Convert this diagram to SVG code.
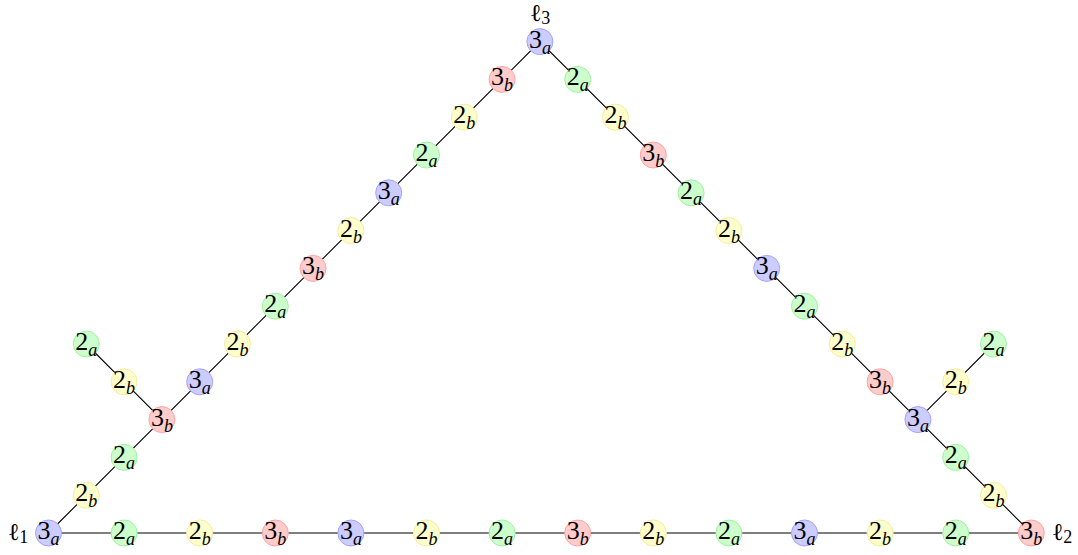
<svg xmlns="http://www.w3.org/2000/svg" width="1078" height="555" viewBox="0 0 1078 555">
<style>
.bg{fill:#ffffff}
.e{stroke:#000;stroke-width:1.1;fill:none}
circle{stroke-width:1}
.a3 circle{fill:#ccccff;stroke:#a3a3ff}
.b3 circle{fill:#ffcccc;stroke:#ffa3a3}
.a2 circle{fill:#ccffcc;stroke:#a3f0a3}
.b2 circle{fill:#ffffcc;stroke:#f5eba3}
.t{font-family:'Liberation Serif','Times New Roman',serif;font-size:26px;fill:#000;text-anchor:middle}
.s{font-family:'Liberation Serif','Times New Roman',serif;font-style:italic;font-size:18px}
.ls{font-family:'Liberation Serif',serif;font-size:18px}
</style>
<rect class="bg" x="0" y="0" width="1078" height="555"/>
<g id="connectors">
<polyline class="e" points="48.5,533 539.9,41.6 1031.3,533 48.5,533"/>
<polyline class="e" points="161.9,419.6 124.1,381.8 86.3,344"/>
<polyline class="e" points="917.9,419.6 955.7,381.8 993.5,344"/>
</g>
<g id="nodes">
<g id="L0" class="a3"><circle cx="48.5" cy="533" r="13"/><text class="t" x="48.5" y="539">3<tspan class="s" dy="6">a</tspan></text></g>
<g id="L1" class="b2"><circle cx="86.3" cy="495.2" r="13"/><text class="t" x="86.3" y="501.2">2<tspan class="s" dy="6">b</tspan></text></g>
<g id="L2" class="a2"><circle cx="124.1" cy="457.4" r="13"/><text class="t" x="124.1" y="463.4">2<tspan class="s" dy="6">a</tspan></text></g>
<g id="L3" class="b3"><circle cx="161.9" cy="419.6" r="13"/><text class="t" x="161.9" y="425.6">3<tspan class="s" dy="6">b</tspan></text></g>
<g id="L4" class="a3"><circle cx="199.7" cy="381.8" r="13"/><text class="t" x="199.7" y="387.8">3<tspan class="s" dy="6">a</tspan></text></g>
<g id="L5" class="b2"><circle cx="237.5" cy="344" r="13"/><text class="t" x="237.5" y="350">2<tspan class="s" dy="6">b</tspan></text></g>
<g id="L6" class="a2"><circle cx="275.3" cy="306.2" r="13"/><text class="t" x="275.3" y="312.2">2<tspan class="s" dy="6">a</tspan></text></g>
<g id="L7" class="b3"><circle cx="313.1" cy="268.4" r="13"/><text class="t" x="313.1" y="274.4">3<tspan class="s" dy="6">b</tspan></text></g>
<g id="L8" class="b2"><circle cx="350.9" cy="230.6" r="13"/><text class="t" x="350.9" y="236.6">2<tspan class="s" dy="6">b</tspan></text></g>
<g id="L9" class="a3"><circle cx="388.7" cy="192.8" r="13"/><text class="t" x="388.7" y="198.8">3<tspan class="s" dy="6">a</tspan></text></g>
<g id="L10" class="a2"><circle cx="426.5" cy="155" r="13"/><text class="t" x="426.5" y="161">2<tspan class="s" dy="6">a</tspan></text></g>
<g id="L11" class="b2"><circle cx="464.3" cy="117.2" r="13"/><text class="t" x="464.3" y="123.2">2<tspan class="s" dy="6">b</tspan></text></g>
<g id="L12" class="b3"><circle cx="502.1" cy="79.4" r="13"/><text class="t" x="502.1" y="85.4">3<tspan class="s" dy="6">b</tspan></text></g>
<g id="APEX" class="a3"><circle cx="539.9" cy="41.6" r="13"/><text class="t" x="539.9" y="47.6">3<tspan class="s" dy="6">a</tspan></text></g>
<g id="R1" class="a2"><circle cx="577.7" cy="79.4" r="13"/><text class="t" x="577.7" y="85.4">2<tspan class="s" dy="6">a</tspan></text></g>
<g id="R2" class="b2"><circle cx="615.5" cy="117.2" r="13"/><text class="t" x="615.5" y="123.2">2<tspan class="s" dy="6">b</tspan></text></g>
<g id="R3" class="b3"><circle cx="653.3" cy="155" r="13"/><text class="t" x="653.3" y="161">3<tspan class="s" dy="6">b</tspan></text></g>
<g id="R4" class="a2"><circle cx="691.1" cy="192.8" r="13"/><text class="t" x="691.1" y="198.8">2<tspan class="s" dy="6">a</tspan></text></g>
<g id="R5" class="b2"><circle cx="728.9" cy="230.6" r="13"/><text class="t" x="728.9" y="236.6">2<tspan class="s" dy="6">b</tspan></text></g>
<g id="R6" class="a3"><circle cx="766.7" cy="268.4" r="13"/><text class="t" x="766.7" y="274.4">3<tspan class="s" dy="6">a</tspan></text></g>
<g id="R7" class="a2"><circle cx="804.5" cy="306.2" r="13"/><text class="t" x="804.5" y="312.2">2<tspan class="s" dy="6">a</tspan></text></g>
<g id="R8" class="b2"><circle cx="842.3" cy="344" r="13"/><text class="t" x="842.3" y="350">2<tspan class="s" dy="6">b</tspan></text></g>
<g id="R9" class="b3"><circle cx="880.1" cy="381.8" r="13"/><text class="t" x="880.1" y="387.8">3<tspan class="s" dy="6">b</tspan></text></g>
<g id="R10" class="a3"><circle cx="917.9" cy="419.6" r="13"/><text class="t" x="917.9" y="425.6">3<tspan class="s" dy="6">a</tspan></text></g>
<g id="R11" class="a2"><circle cx="955.7" cy="457.4" r="13"/><text class="t" x="955.7" y="463.4">2<tspan class="s" dy="6">a</tspan></text></g>
<g id="R12" class="b2"><circle cx="993.5" cy="495.2" r="13"/><text class="t" x="993.5" y="501.2">2<tspan class="s" dy="6">b</tspan></text></g>
<g id="R13" class="b3"><circle cx="1031.3" cy="533" r="13"/><text class="t" x="1031.3" y="539">3<tspan class="s" dy="6">b</tspan></text></g>
<g id="B1" class="a2"><circle cx="124.1" cy="533" r="13"/><text class="t" x="124.1" y="539">2<tspan class="s" dy="6">a</tspan></text></g>
<g id="B2" class="b2"><circle cx="199.7" cy="533" r="13"/><text class="t" x="199.7" y="539">2<tspan class="s" dy="6">b</tspan></text></g>
<g id="B3" class="b3"><circle cx="275.3" cy="533" r="13"/><text class="t" x="275.3" y="539">3<tspan class="s" dy="6">b</tspan></text></g>
<g id="B4" class="a3"><circle cx="350.9" cy="533" r="13"/><text class="t" x="350.9" y="539">3<tspan class="s" dy="6">a</tspan></text></g>
<g id="B5" class="b2"><circle cx="426.5" cy="533" r="13"/><text class="t" x="426.5" y="539">2<tspan class="s" dy="6">b</tspan></text></g>
<g id="B6" class="a2"><circle cx="502.1" cy="533" r="13"/><text class="t" x="502.1" y="539">2<tspan class="s" dy="6">a</tspan></text></g>
<g id="B7" class="b3"><circle cx="577.7" cy="533" r="13"/><text class="t" x="577.7" y="539">3<tspan class="s" dy="6">b</tspan></text></g>
<g id="B8" class="b2"><circle cx="653.3" cy="533" r="13"/><text class="t" x="653.3" y="539">2<tspan class="s" dy="6">b</tspan></text></g>
<g id="B9" class="a2"><circle cx="728.9" cy="533" r="13"/><text class="t" x="728.9" y="539">2<tspan class="s" dy="6">a</tspan></text></g>
<g id="B10" class="a3"><circle cx="804.5" cy="533" r="13"/><text class="t" x="804.5" y="539">3<tspan class="s" dy="6">a</tspan></text></g>
<g id="B11" class="b2"><circle cx="880.1" cy="533" r="13"/><text class="t" x="880.1" y="539">2<tspan class="s" dy="6">b</tspan></text></g>
<g id="B12" class="a2"><circle cx="955.7" cy="533" r="13"/><text class="t" x="955.7" y="539">2<tspan class="s" dy="6">a</tspan></text></g>
<g id="LB1" class="b2"><circle cx="124.1" cy="381.8" r="13"/><text class="t" x="124.1" y="387.8">2<tspan class="s" dy="6">b</tspan></text></g>
<g id="LB2" class="a2"><circle cx="86.3" cy="344" r="13"/><text class="t" x="86.3" y="350">2<tspan class="s" dy="6">a</tspan></text></g>
<g id="RB1" class="b2"><circle cx="955.7" cy="381.8" r="13"/><text class="t" x="955.7" y="387.8">2<tspan class="s" dy="6">b</tspan></text></g>
<g id="RB2" class="a2"><circle cx="993.5" cy="344" r="13"/><text class="t" x="993.5" y="350">2<tspan class="s" dy="6">a</tspan></text></g>
</g>
<g id="labels">
<text class="t" x="18" y="540" style="font-size:24px">ℓ<tspan class="ls" dy="3">1</tspan></text>
<text class="t" x="1062" y="540" style="font-size:24px">ℓ<tspan class="ls" dy="3">2</tspan></text>
<text class="t" x="540" y="21" style="font-size:24px">ℓ<tspan class="ls" dy="3">3</tspan></text>
</g>
</svg>
